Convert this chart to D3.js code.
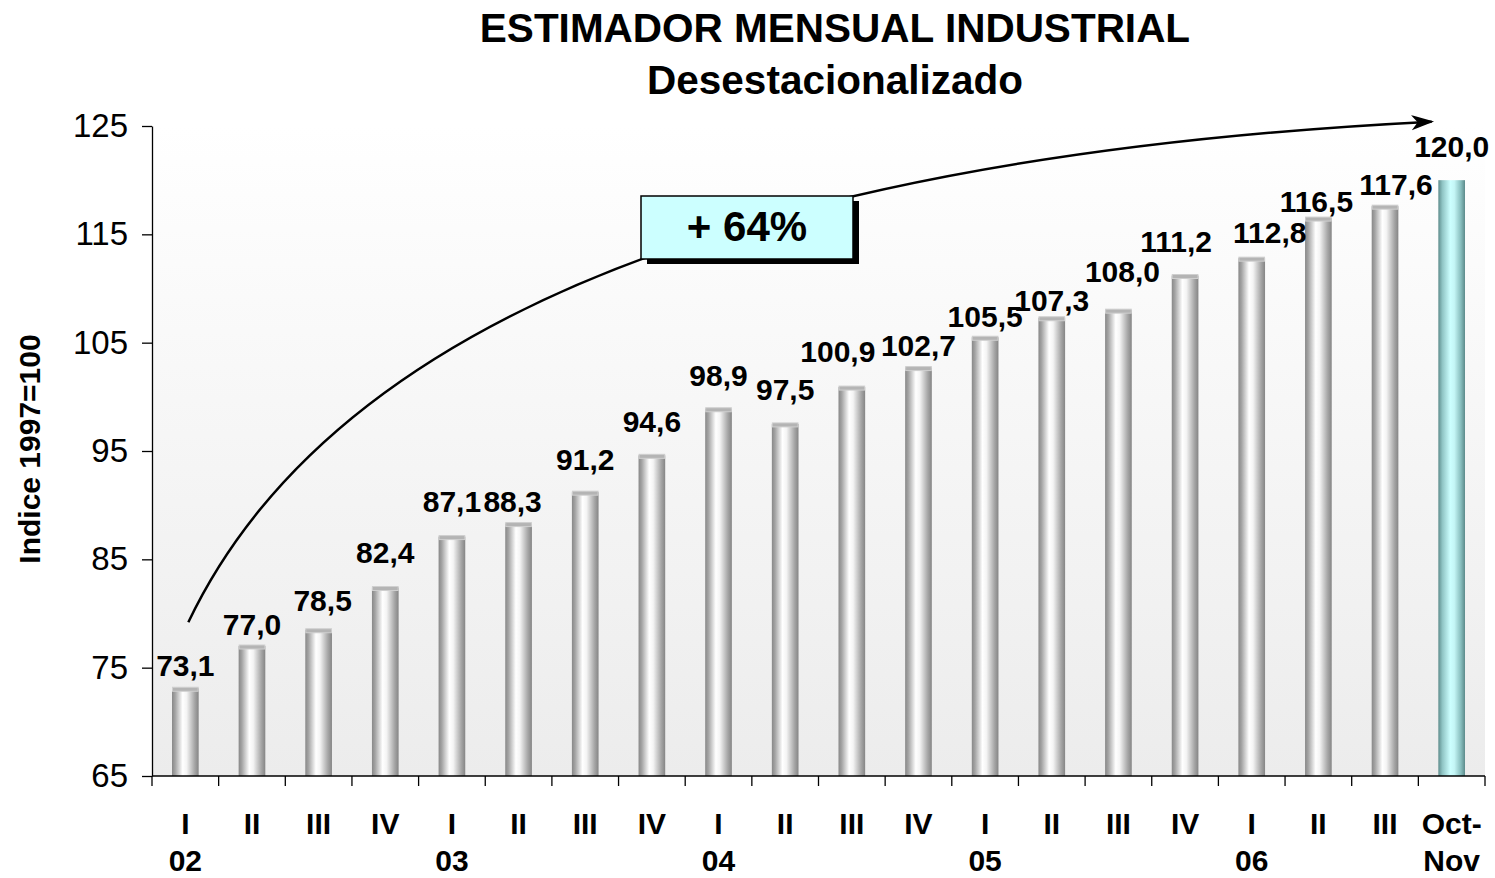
<!DOCTYPE html>
<html><head><meta charset="utf-8">
<script src="https://cdn.jsdelivr.net/npm/d3@7"></script>
<style>
body{margin:0;background:#fff}
svg{display:block}
text{font-family:"Liberation Sans",Arial,Helvetica,sans-serif}
</style>
</head><body>
<svg id="chart" width="1495" height="878"></svg>
<script>
// ---- data ----
const quarters = ["I","II","III","IV","I","II","III","IV","I","II","III","IV","I","II","III","IV","I","II","III","Oct-"];
const years    = ["02","","","","03","","","","04","","","","05","","","","06","","","Nov"];
const values   = [73.1,77.0,78.5,82.4,87.1,88.3,91.2,94.6,98.9,97.5,100.9,102.7,105.5,107.3,108.0,111.2,112.8,116.5,117.6,120.0];
const highlight = [false,false,false,false,false,false,false,false,false,false,false,false,false,false,false,false,false,false,false,true];
const yTicks   = [65,75,85,95,105,115,125];
const titleLines = ["ESTIMADOR MENSUAL INDUSTRIAL","Desestacionalizado"];
const yTitle   = "Indice 1997=100";
const growthText = "+ 64%";

(function(){
// ---- layout ----
const pL = 152, pR = 1485, pT = 126, pB = 776;
const svg = d3.select("#chart");
const defs = svg.append("defs");

const x = d3.scaleBand().domain(d3.range(values.length)).range([pL, pR]).paddingInner(0.6).paddingOuter(0.3);
const y = d3.scaleLinear().domain([65,125]).range([pB, pT]);

// plot background gradient
const bg = defs.append("linearGradient").attr("id","bg").attr("x1",0).attr("y1",0).attr("x2",0).attr("y2",1);
bg.append("stop").attr("offset","0%").attr("stop-color","#ffffff");
bg.append("stop").attr("offset","100%").attr("stop-color","#ececec");
svg.append("rect").attr("x",pL).attr("y",pT).attr("width",pR-pL).attr("height",pB-pT).attr("fill","url(#bg)");

// bar gradients
function hGrad(id, stops){
  const g = defs.append("linearGradient").attr("id",id).attr("x1",0).attr("y1",0).attr("x2",1).attr("y2",0);
  stops.forEach(s=>g.append("stop").attr("offset",s[0]).attr("stop-color",s[1]));
}
hGrad("gGrey",[["0%","#888888"],["12%","#a4a4a4"],["40%","#ffffff"],["55%","#f4f4f4"],["85%","#a6a6a6"],["100%","#858585"]]);
hGrad("gTeal",[["0%","#5f8d8d"],["15%","#8fc4c4"],["45%","#ccffff"],["60%","#c4f6f6"],["85%","#86bcbc"],["100%","#5c8a8a"]]);

// bars
svg.append("g").selectAll("rect").data(values).join("rect")
  .attr("x",(d,i)=>x(i)).attr("y",d=>y(d))
  .attr("width",x.bandwidth()).attr("height",d=>pB-y(d))
  .attr("fill",(d,i)=>highlight[i]?"url(#gTeal)":"url(#gGrey)");
// top caps of grey bars
svg.append("g").selectAll("rect").data(values.map((v,i)=>({v,i})).filter(o=>!highlight[o.i])).join("rect")
  .attr("x",o=>x(o.i)+0.5).attr("y",o=>y(o.v)-1)
  .attr("width",x.bandwidth()-1).attr("height",4)
  .attr("fill","#b4b4b4").attr("stroke","#cfcfcf").attr("stroke-width",1);

// y axis
const yAxis = d3.axisLeft(y).tickValues(yTicks).tickSize(10).tickSizeOuter(0).tickPadding(14);
const ya = svg.append("g").attr("transform",`translate(${pL},0)`).call(yAxis);
ya.select(".domain").attr("stroke","#000").attr("stroke-width",1.3);
ya.selectAll(".tick line").attr("stroke","#000").attr("stroke-width",1.3);
ya.selectAll(".tick text").attr("font-size",33).attr("fill","#000").attr("font-family",'"Liberation Sans",Arial,sans-serif');

// x axis line and ticks at category boundaries
svg.append("line").attr("x1",pL).attr("x2",pR).attr("y1",pB).attr("y2",pB).attr("stroke","#000").attr("stroke-width",1.3);
const bounds = d3.range(values.length+1).map(i=> i<values.length ? x(i)-x.step()*x.paddingInner()/2 : pR);
svg.append("g").selectAll("line").data(bounds).join("line")
  .attr("x1",d=>d).attr("x2",d=>d).attr("y1",pB).attr("y2",pB+10)
  .attr("stroke","#000").attr("stroke-width",1.3);

// x labels
const cx = i => x(i)+x.bandwidth()/2;
svg.append("g").selectAll("text").data(quarters).join("text")
  .attr("x",(d,i)=>cx(i)).attr("y",834).attr("text-anchor","middle")
  .attr("font-size",30).attr("font-weight","bold").text(d=>d);
svg.append("g").selectAll("text").data(years).join("text")
  .attr("x",(d,i)=>cx(i)).attr("y",871).attr("text-anchor","middle")
  .attr("font-size",30).attr("font-weight","bold").text(d=>d);

// value labels (with small manual placement tweaks, as in the original)
const lift = [12,11,19,25,25,12,22,23,23,24,25,12,10,7,28,24,15,6,11,23];
const shift = [0,0,4,0,0,-6,0,0,0,0,-14,0,0,0,4,-9,18,-2,11,0];
const fmt = v => d3.format(".1f")(v).replace(".",",");
svg.append("g").selectAll("text").data(values).join("text")
  .attr("x",(d,i)=>cx(i)+shift[i]).attr("y",(d,i)=>y(d)-lift[i])
  .attr("text-anchor","middle").attr("font-size",30).attr("font-weight","bold")
  .text(d=>fmt(d));

// title
svg.append("g").selectAll("text").data(titleLines).join("text")
  .attr("x",835).attr("y",(d,i)=>42+i*52).attr("text-anchor","middle")
  .attr("font-size",40.5).attr("font-weight","bold").text(d=>d);

// y title
svg.append("text").attr("transform","translate(40,449) rotate(-90)")
  .attr("text-anchor","middle").attr("font-size",30).attr("font-weight","bold").text(yTitle);

// growth arrow (quadratic curve from first bar to last)
defs.append("marker").attr("id","ah").attr("viewBox","-20 -10 24 20").attr("refX",0).attr("refY",0)
  .attr("markerWidth",24).attr("markerHeight",20).attr("markerUnits","userSpaceOnUse").attr("orient","auto")
  .append("path").attr("d","M-18,-6 L0,0 L-18,6 L-13,0 Z").attr("fill","#000").attr("stroke","#000").attr("stroke-width",1.5).attr("stroke-linejoin","miter");
const p0 = [cx(0)+3, y(79.2)];
const p2 = [cx(19)-20, y(125.4)];
const p1 = [cx(3)+17, y(120.6)];
const path = d3.path(); path.moveTo(p0[0],p0[1]); path.quadraticCurveTo(p1[0],p1[1],p2[0],p2[1]);
svg.append("path").attr("d",path.toString()).attr("fill","none").attr("stroke","#000").attr("stroke-width",2.5).attr("marker-end","url(#ah)");

// growth box
const bx=641, by=196, bw=212, bh=63;
svg.append("rect").attr("x",bx+6).attr("y",by+5).attr("width",bw).attr("height",bh).attr("fill","#000");
svg.append("rect").attr("x",bx).attr("y",by).attr("width",bw).attr("height",bh).attr("fill","#ccffff").attr("stroke","#000").attr("stroke-width",1.5);
svg.append("text").attr("x",bx+bw/2).attr("y",by+45).attr("text-anchor","middle")
  .attr("font-size",42).attr("font-weight","bold").text(growthText);
})();
</script>
</body></html>
